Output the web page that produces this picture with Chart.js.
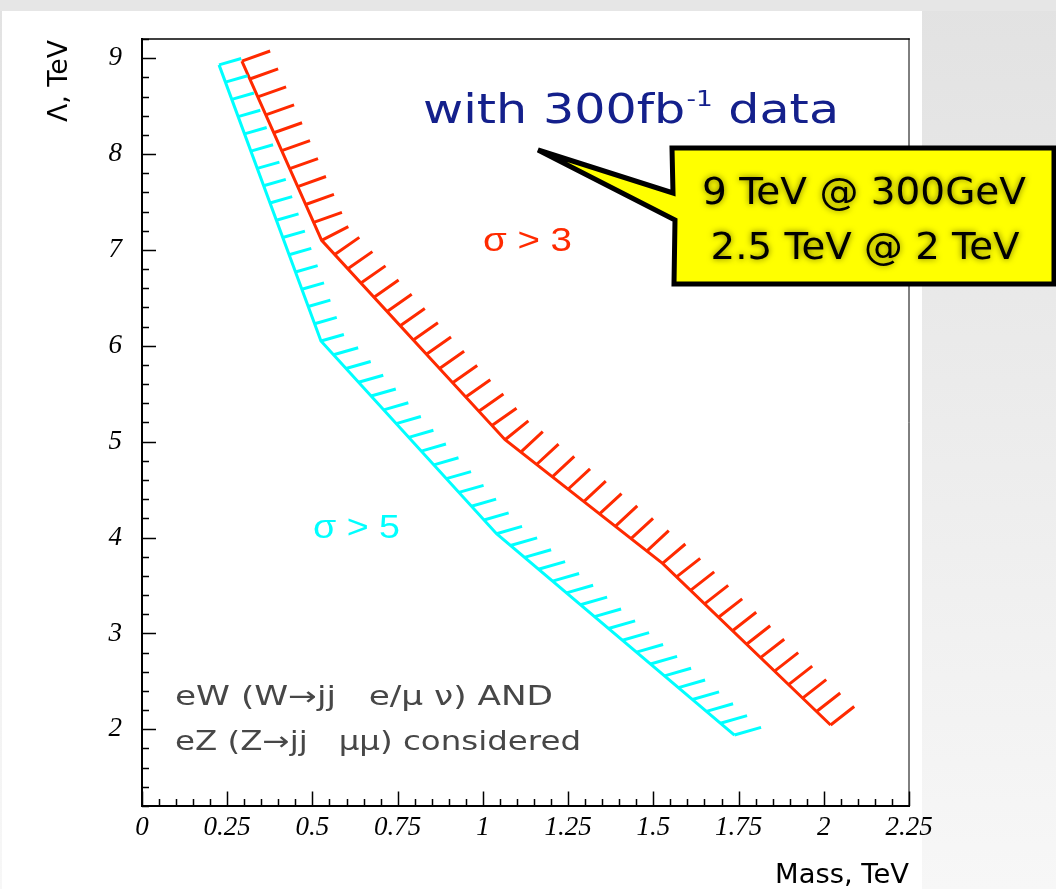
<!DOCTYPE html>
<html lang="en">
<head>
<meta charset="UTF-8">
<title>Lambda reach vs mass</title>
<script src="https://cdn.jsdelivr.net/npm/chart.js"></script>
<style>
    body {
        margin: 0;
        width: 1056px;
        height: 889px;
        overflow: hidden;
        position: relative;
        background: linear-gradient(to bottom, #e2e2e2, #f7f7f7);
    }
    .topband {
        position: absolute;
        left: 0; top: 0;
        width: 1056px; height: 11px;
        background: #e6e6e6;
    }
    .sheet {
        position: absolute;
        left: 2px; top: 11px;
        width: 920px; height: 878px;
        background: #ffffff;
    }
    canvas {
        position: absolute;
        left: 0; top: 0;
    }
</style>
</head>
<body>
<div class="topband"></div>
<div class="sheet"></div>
<canvas id="reach" width="1056" height="889"></canvas>

<script>
// sigma > 3 and sigma > 5 contours (Mass in TeV, Lambda in TeV)
const massSigma3   = [0.293, 0.527, 1.065, 1.527, 2.020];
const lambdaSigma3 = [8.97, 7.10, 5.02, 3.73, 2.045];
const massSigma5   = [0.226, 0.525, 1.040, 1.738];
const lambdaSigma5 = [8.93, 6.05, 4.04, 1.94];

const massTicks    = [0, 0.25, 0.5, 0.75, 1, 1.25, 1.5, 1.75, 2, 2.25];
const massLabels   = ['0', '0.25', '0.5', '0.75', '1', '1.25', '1.5', '1.75', '2', '2.25'];
const lambdaTicks  = [2, 3, 4, 5, 6, 7, 8, 9];
const lambdaLabels = ['2', '3', '4', '5', '6', '7', '8', '9'];

const RED  = '#ff2a00';
const CYAN = '#00ffff';

// minor ticks: 5 subdivisions between majors, extended to the axis limits
function minorTicks(majors, min, max) {
    const step = (majors[1] - majors[0]) / 5;
    const out = [];
    for (let v = majors[0]; v >= min - 1e-9; v -= step) out.push(v);
    for (let v = majors[0] + step; v <= max + 1e-9; v += step) out.push(v);
    return out;
}

// hatched side of an exclusion line, drawn along the dataset's own pixel points
const hatchPlugin = {
    id: 'hatch',
    afterDatasetsDraw(chart) {
        const ctx = chart.ctx;
        chart.data.datasets.forEach((ds, di) => {
            const h = ds.hatch;
            if (!h) return;
            const pts = chart.getDatasetMeta(di).data.map(p => ({ x: p.x, y: p.y }));
            const segs = [];
            for (let i = 0; i < pts.length - 1; i++) {
                const dx = pts[i + 1].x - pts[i].x, dy = pts[i + 1].y - pts[i].y;
                const len = Math.hypot(dx, dy);
                segs.push({ nx: dy / len, ny: -dx / len, len });
            }
            const dirFor = (nx, ny) => {
                if (h.angle != null) {
                    const a = h.angle * Math.PI / 180;
                    return { x: Math.cos(a), y: -Math.sin(a) };
                }
                const vx = nx + h.bias, vy = ny, l = Math.hypot(vx, vy);
                return { x: vx / l, y: vy / l };
            };
            ctx.save();
            ctx.strokeStyle = ds.borderColor;
            ctx.lineWidth = h.width;
            ctx.lineCap = 'butt';
            ctx.beginPath();
            segs.forEach((s, i) => {
                const steps = Math.max(1, Math.round(s.len / h.spacing));
                for (let k = (i === 0 ? 0 : 1); k <= steps; k++) {
                    const t = k / steps;
                    const px = pts[i].x + (pts[i + 1].x - pts[i].x) * t;
                    const py = pts[i].y + (pts[i + 1].y - pts[i].y) * t;
                    let nx = s.nx, ny = s.ny;
                    if (k === steps && i < segs.length - 1) {
                        nx += segs[i + 1].nx; ny += segs[i + 1].ny;
                        const l = Math.hypot(nx, ny); nx /= l; ny /= l;
                    }
                    const d = dirFor(nx, ny);
                    const len = h.reach ? h.reach / Math.abs(d.x * nx + d.y * ny) : h.length;
                    ctx.moveTo(px, py);
                    ctx.lineTo(px + d.x * len, py + d.y * len);
                }
            });
            ctx.stroke();
            ctx.restore();
        });
    }
};

// frame and inward-pointing tick marks
const framePlugin = {
    id: 'frame',
    beforeDatasetsDraw(chart) {
        const { ctx, chartArea: a, scales: { x, y } } = chart;
        ctx.save();
        ctx.strokeStyle = '#000';
        ctx.lineCap = 'square';

        ctx.lineWidth = 1;
        ctx.beginPath();
        ctx.moveTo(a.right, a.top); ctx.lineTo(a.right, a.bottom);
        ctx.stroke();
        ctx.lineWidth = 1.6;
        ctx.beginPath();
        ctx.moveTo(a.left, a.top); ctx.lineTo(a.right, a.top);
        ctx.stroke();
        ctx.lineWidth = 2;
        ctx.beginPath();
        ctx.moveTo(a.left, a.top); ctx.lineTo(a.left, a.bottom); ctx.lineTo(a.right, a.bottom);
        ctx.stroke();

        ctx.lineWidth = 1.5;
        ctx.lineCap = 'butt';
        ctx.beginPath();
        minorTicks(massTicks, x.min, x.max).forEach(v => {
            const px = Math.round(x.getPixelForValue(v)) + 0.5;
            const major = massTicks.some(m => Math.abs(m - v) < 1e-6);
            ctx.moveTo(px, a.bottom);
            ctx.lineTo(px, a.bottom - (major ? 14.5 : 7));
        });
        minorTicks(lambdaTicks, y.min, y.max).forEach(v => {
            const py = Math.round(y.getPixelForValue(v)) + 0.5;
            const major = lambdaTicks.some(m => Math.abs(m - v) < 1e-6);
            ctx.moveTo(a.left, py);
            ctx.lineTo(a.left + (major ? 14 : 7), py);
        });
        ctx.stroke();
        ctx.restore();
    }
};

function fitText(ctx, text, x, y, width, align) {
    const w = ctx.measureText(text).width;
    ctx.save();
    ctx.translate(x, y);
    ctx.scale(width / w, 1);
    ctx.textAlign = align || 'left';
    ctx.fillText(text, 0, 0);
    ctx.restore();
}

// axis titles, labels on the plot and the callout
const notesPlugin = {
    id: 'notes',
    afterDraw(chart) {
        const ctx = chart.ctx;
        ctx.save();
        ctx.textBaseline = 'alphabetic';

        ctx.fillStyle = '#000';
        ctx.font = '26px "DejaVu Sans"';
        fitText(ctx, 'Mass, TeV', 909, 883, 134, 'right');
        ctx.save();
        ctx.translate(67, 40);
        ctx.rotate(-Math.PI / 2);
        fitText(ctx, 'Λ, TeV', 0, 0, 82, 'right');
        ctx.restore();

        ctx.font = '33px "Liberation Sans"';
        ctx.fillStyle = RED;
        fitText(ctx, 'σ > 3', 483, 251, 89);
        ctx.fillStyle = CYAN;
        fitText(ctx, 'σ > 5', 313, 538, 87);

        ctx.fillStyle = '#474747';
        ctx.font = '26px "DejaVu Sans"';
        fitText(ctx, 'eW (W→jj   e/μ ν) AND', 175, 705, 378);
        fitText(ctx, 'eZ (Z→jj   μμ) considered', 175, 750, 406);

        // "with 300fb^-1 data"
        const mainFont = '41px "DejaVu Sans"', supFont = '22px "DejaVu Sans"';
        ctx.font = mainFont;
        const w1 = ctx.measureText('with 300fb').width;
        const w3 = ctx.measureText(' data').width;
        ctx.font = supFont;
        const w2 = ctx.measureText('-1').width;
        const sx = 416 / (w1 + w2 + 1 + w3);
        ctx.save();
        ctx.translate(423, 123);
        ctx.scale(sx, 1);
        ctx.fillStyle = '#14208c';
        ctx.font = mainFont;
        ctx.fillText('with 300fb', 0, 0);
        ctx.font = supFont;
        ctx.fillText('-1', w1 + 1, -17);
        ctx.font = mainFont;
        ctx.fillText(' data', w1 + w2 + 1, 0);
        ctx.restore();

        // callout
        ctx.beginPath();
        ctx.moveTo(672, 148);
        ctx.lineTo(1054, 148);
        ctx.lineTo(1054, 284);
        ctx.lineTo(674, 284);
        ctx.lineTo(675, 220);
        ctx.lineTo(538, 150);
        ctx.lineTo(673, 193);
        ctx.closePath();
        ctx.fillStyle = '#ffff00';
        ctx.fill();
        ctx.lineWidth = 5;
        ctx.lineJoin = 'miter';
        ctx.strokeStyle = '#000';
        ctx.stroke();

        ctx.fillStyle = '#000';
        ctx.shadowColor = 'rgba(0,0,0,0.55)';
        ctx.shadowBlur = 6;
        ctx.font = '37px "DejaVu Sans"';
        fitText(ctx, '9 TeV @ 300GeV', 864, 204, 324, 'center');
        fitText(ctx, '2.5 TeV @ 2 TeV', 865, 259, 309, 'center');
        ctx.restore();
    }
};

new Chart(document.getElementById('reach'), {
    type: 'scatter',
    data: {
        datasets: [
            {
                label: 'σ > 3',
                data: massSigma3.map((m, i) => ({ x: m, y: lambdaSigma3[i] })),
                borderColor: RED,
                borderWidth: 3,
                showLine: true,
                pointRadius: 0,
                tension: 0,
                hatch: { width: 3, spacing: 19.5, length: 30, bias: 0.23 }
            },
            {
                label: 'σ > 5',
                data: massSigma5.map((m, i) => ({ x: m, y: lambdaSigma5[i] })),
                borderColor: CYAN,
                borderWidth: 3,
                showLine: true,
                pointRadius: 0,
                tension: 0,
                hatch: { width: 3, spacing: 18, angle: 16, reach: 23 }
            }
        ]
    },
    options: {
        responsive: false,
        animation: false,
        layout: { padding: { left: 0, top: 39, right: 147, bottom: 0 } },
        plugins: {
            legend: { display: false },
            tooltip: { enabled: false }
        },
        scales: {
            x: {
                type: 'linear',
                min: 0,
                max: 2.25,
                afterBuildTicks: s => { s.ticks = massTicks.map(v => ({ value: v })); },
                afterFit: s => { s.height = 83; },
                grid: { display: false, drawTicks: false },
                border: { display: false },
                ticks: {
                    callback: (v, i) => massLabels[i],
                    color: '#000',
                    padding: 6,
                    maxRotation: 0,
                    autoSkip: false,
                    font: { family: 'Liberation Serif', size: 27, style: 'italic' }
                }
            },
            y: {
                type: 'linear',
                min: 1.2,
                max: 9.2,
                afterBuildTicks: s => { s.ticks = lambdaTicks.map(v => ({ value: v })); },
                afterFit: s => { s.width = 142; },
                grid: { display: false, drawTicks: false },
                border: { display: false },
                ticks: {
                    callback: (v, i) => lambdaLabels[i],
                    color: '#000',
                    padding: 20,
                    autoSkip: false,
                    font: { family: 'Liberation Serif', size: 27, style: 'italic' }
                }
            }
        }
    },
    plugins: [framePlugin, hatchPlugin, notesPlugin]
});
</script>
</body>
</html>
